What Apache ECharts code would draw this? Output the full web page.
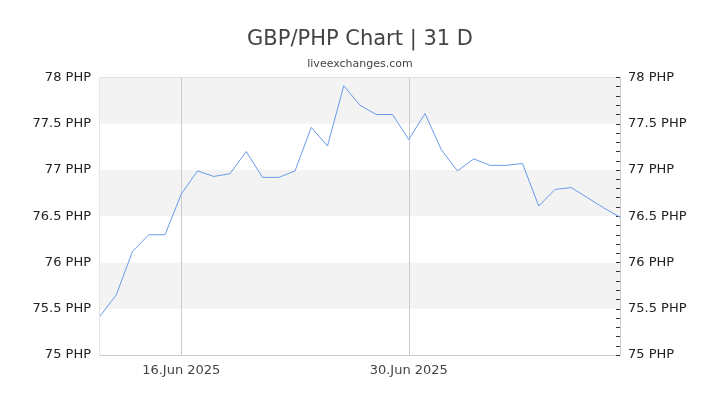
<!DOCTYPE html>
<html>
<head>
<meta charset="utf-8">
<script src="https://cdn.jsdelivr.net/npm/echarts@6/dist/echarts.min.js"></script>
<style>
  html, body { margin: 0; padding: 0; background: #fff; }
  #chart { width: 720px; height: 405px; }
</style>
</head>
<body>
<div id="chart"></div>
<script>
// 日期 (每日一点)
const dates = [
  '2025-06-11', '2025-06-12', '2025-06-13', '2025-06-14', '2025-06-15',
  '2025-06-16', '2025-06-17', '2025-06-18', '2025-06-19', '2025-06-20',
  '2025-06-21', '2025-06-22', '2025-06-23', '2025-06-24', '2025-06-25',
  '2025-06-26', '2025-06-27', '2025-06-28', '2025-06-29', '2025-06-30',
  '2025-07-01', '2025-07-02', '2025-07-03', '2025-07-04', '2025-07-05',
  '2025-07-06', '2025-07-07', '2025-07-08', '2025-07-09', '2025-07-10',
  '2025-07-11', '2025-07-12', '2025-07-13'
];
// GBP/PHP 汇率
const rates = [
  75.42, 75.65, 76.12, 76.30, 76.30, 76.74, 76.99, 76.93, 76.96, 77.20,
  76.92, 76.92, 76.99, 77.46, 77.26, 77.91, 77.70, 77.60, 77.60, 77.33,
  77.61, 77.22, 76.99, 77.12, 77.05, 77.05, 77.07, 76.61, 76.79, 76.81,
  76.70, 76.59, 76.49
];
// 需要显示的日期标签
const labelDates = ['2025-06-16', '2025-06-30'];
const months = ['Jan','Feb','Mar','Apr','May','Jun','Jul','Aug','Sep','Oct','Nov','Dec'];

const fmtDate = (s) => {
  const p = s.split('-');
  return parseInt(p[2], 10) + '.' + months[parseInt(p[1], 10) - 1] + ' ' + p[0];
};
const fmtRate = (v) => v + ' PHP';
const showDate = (i, v) => labelDates.includes(v);

const myChart = echarts.init(document.getElementById('chart'));
const option = {
  backgroundColor: '#fff',
  animation: false,
  textStyle: { fontFamily: 'DejaVu Sans' },
  title: {
    text: 'GBP/PHP Chart | 31 D',
    subtext: 'liveexchanges.com',
    left: 'center',
    top: 24,
    itemGap: 9,
    textStyle: { fontSize: 21, fontWeight: 'normal', color: '#444', fontFamily: 'DejaVu Sans' },
    subtextStyle: { fontSize: 11, color: '#444', fontFamily: 'DejaVu Sans' }
  },
  grid: {
    left: 100, right: 100, top: 77.5, bottom: 50,
    show: true,
    borderColor: '#ccc',
    borderWidth: 1,
    backgroundColor: 'transparent'
  },
  xAxis: {
    type: 'category',
    data: dates,
    boundaryGap: false,
    axisLine: { show: true, lineStyle: { color: '#ccc' } },
    axisTick: { show: false },
    axisLabel: {
      interval: showDate,
      formatter: fmtDate,
      color: '#444',
      fontSize: 13,
      margin: 9
    },
    splitLine: {
      show: true,
      interval: showDate,
      lineStyle: { color: '#ccc', width: 1 }
    }
  },
  yAxis: [
    {
      type: 'value',
      min: 75,
      max: 78,
      interval: 0.5,
      position: 'left',
      axisLine: { show: false },
      axisTick: { show: false },
      axisLabel: { formatter: fmtRate, color: '#222', fontSize: 13, margin: 9 },
      splitLine: { show: false },
      splitArea: { show: true, areaStyle: { color: ['#fff', '#f3f3f3'] } }
    },
    {
      type: 'value',
      min: 75,
      max: 78,
      interval: 0.5,
      position: 'right',
      axisLine: { show: true, lineStyle: { color: '#ccc' } },
      axisTick: { show: true, inside: true, length: 4, lineStyle: { color: '#333' } },
      minorTick: { show: true, splitNumber: 5, length: 4, lineStyle: { color: '#333' } },
      axisLabel: { formatter: fmtRate, color: '#222', fontSize: 13, margin: 8 },
      splitLine: { show: false }
    }
  ],
  series: [
    {
      type: 'line',
      data: rates,
      yAxisIndex: 0,
      symbol: 'none',
      lineStyle: { color: '#6a9be9', width: 1 }
    }
  ]
};
myChart.setOption(option);
</script>
</body>
</html>
